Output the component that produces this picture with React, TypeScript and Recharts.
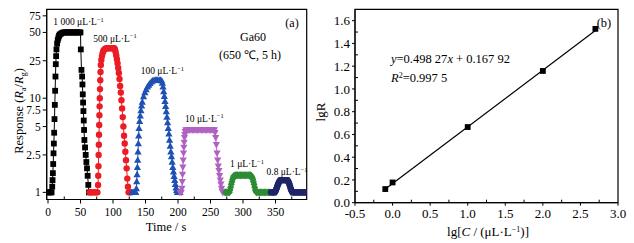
import { ScatterChart, Scatter, XAxis, YAxis, ReferenceArea } from "recharts";

const FONT = '"Liberation Serif", "Times New Roman", serif';

// [time / s, response Ra/Rg]
const resp1000: [number, number][] = [
  [0, 1], [2, 1], [4, 1], [5.5, 1], [6.5, 1.15], [7, 1.35], [7.5, 1.6], [8, 2], [8.5, 2.6],
  [9, 3.3], [9.5, 4.3], [10, 6], [10.5, 8.5], [11, 12], [11.5, 17], [12, 23], [12.5, 28],
  [13, 33], [14, 38], [15, 41.5], [16, 44], [17, 46], [18, 47.5], [20, 48.5], [22, 49.5],
  [24, 50], [26, 50], [28, 50], [30, 50], [32, 50], [34, 50], [36, 50], [38, 50], [40, 50],
  [42, 50], [44, 50], [46, 50], [48, 50], [50, 50], [50.5, 33], [51.5, 20], [52.5, 17],
  [53, 14], [53.5, 11], [54, 9], [54.5, 7.3], [55, 5.8], [55.5, 4.6], [56, 3.6], [57, 3],
  [58, 2.5], [59, 2.1], [60, 1.8], [61, 1.5], [62, 1.2], [63, 1],
];
const resp500: [number, number][] = [
  [64, 1], [66, 1], [68, 1], [70, 1], [72, 1], [74, 1], [76, 1], [77, 1.2], [77.3, 1.5],
  [77.6, 1.9], [77.9, 2.5], [78.2, 3.2], [78.5, 4.1], [78.8, 5.2], [79.1, 6.6], [79.4, 8.2],
  [79.7, 10], [80, 12.5], [80.4, 15.5], [80.8, 19], [81.3, 22.5], [82, 25.5], [83, 28],
  [84, 30], [85, 31.5], [86, 32.5], [88, 33.5], [90, 34], [92, 34], [94, 34], [96, 34],
  [98, 34], [100, 34], [102, 34], [103, 33], [104, 31], [105, 28.5], [106, 26], [107, 23.5],
  [108, 21], [109, 18.5], [110, 16], [111, 13.5], [112, 11.5], [113, 9.5], [114, 7.8],
  [115, 6.3], [116, 5], [117, 4], [118, 3.3], [119, 2.7], [120, 2.2], [121, 1.8], [122, 1.4],
  [123, 1.15], [124, 1], [126, 1], [128, 1],
];
const resp100: [number, number][] = [
  [129, 1], [131, 1], [133, 1], [135, 1], [136, 1.1], [136.5, 1.3], [137, 1.55], [137.5, 1.85],
  [138, 2.2], [138.5, 2.7], [139, 3.3], [139.5, 4], [140, 4.8], [141, 5.7], [142, 6.5],
  [143, 7.4], [144, 8.3], [145, 9.1], [147, 10.4], [149, 11.5], [151, 12.4], [153, 13.2],
  [155, 13.8], [157, 14.4], [159, 14.9], [161, 15.3], [163, 15.5], [165, 15.6], [167, 15.6],
  [169, 15.6], [171, 15.6], [173, 15.6], [175, 15.3], [176, 14.5], [177, 13.2], [178, 11.8],
  [179, 10.5], [180, 9.3], [181, 8.2], [182, 7.2], [183, 6.3], [184, 5.5], [185, 4.8],
  [186, 4.2], [187, 3.6], [188, 3.1], [189, 2.7], [190, 2.4], [191, 2.1], [192, 1.85],
  [193, 1.65], [194, 1.48], [195, 1.34], [196, 1.22], [197, 1.12], [198, 1.05], [199, 1],
  [201, 1], [203, 1],
];
const resp10: [number, number][] = [
  [203, 1], [205, 1], [206, 1.1], [206.5, 1.3], [207, 1.55], [207.5, 1.85], [208, 2.2],
  [208.5, 2.6], [209, 3], [209.5, 3.4], [210, 3.8], [210.5, 4.1], [211, 4.4], [212, 4.6],
  [214, 4.6], [216, 4.6], [218, 4.6], [220, 4.6], [222, 4.6], [224, 4.6], [226, 4.6],
  [228, 4.6], [230, 4.6], [232, 4.6], [234, 4.6], [236, 4.6], [238, 4.6], [240, 4.6],
  [242, 4.6], [244, 4.6], [246, 4.6], [248, 4.6], [250, 4.6], [252, 4.6], [254, 4.6],
  [256, 4.6], [257, 4.3], [258, 3.8], [259, 3.2], [260, 2.6], [261, 2.2], [262, 1.9],
  [263, 1.7], [264, 1.5], [265, 1.35], [266, 1.22], [267, 1.1], [268, 1.02], [269, 1],
  [271, 1], [273, 1],
];
const resp1: [number, number][] = [
  [273, 1], [275, 1], [277, 1], [279, 1], [280, 1.06], [281, 1.13], [282, 1.22], [283, 1.3],
  [284, 1.38], [285, 1.45], [286, 1.5], [288, 1.52], [290, 1.52], [292, 1.52], [294, 1.52],
  [296, 1.52], [298, 1.52], [300, 1.52], [302, 1.52], [304, 1.52], [306, 1.52], [308, 1.52],
  [310, 1.52], [312, 1.52], [313, 1.48], [314, 1.44], [315, 1.38], [316, 1.3], [317, 1.22],
  [318, 1.13], [319, 1.06], [320, 1.02], [321, 1], [323, 1], [325, 1], [327, 1], [329, 1],
  [331, 1], [333, 1], [335, 1], [337, 1], [339, 1], [341, 1],
];
const resp08: [number, number][] = [
  [343, 1], [345, 1], [347, 1], [349, 1], [350, 1.03], [351, 1.07], [352, 1.12], [353, 1.17],
  [354, 1.22], [355, 1.27], [356, 1.31], [357, 1.34], [358, 1.35], [360, 1.35], [362, 1.35],
  [364, 1.35], [366, 1.35], [368, 1.35], [369, 1.33], [370, 1.29], [371, 1.24], [372, 1.18],
  [373, 1.12], [374, 1.07], [375, 1.03], [376, 1], [378, 1], [380, 1], [382, 1], [384, 1],
  [386, 1], [388, 1], [390, 1], [392, 1], [394, 1], [396, 1], [398, 1],
];

const timeTicks = [0, 50, 100, 150, 200, 250, 300, 350];
const timeMinor = [25, 75, 125, 175, 225, 275, 325, 375];
const respTicks = [1, 2.5, 5, 7.5, 10, 25, 50, 75];

// panel (b): lg C vs lg R
const lgC = [-0.097, 0, 1, 2, 2.699];
const lgR = [0.12, 0.178, 0.665, 1.158, 1.528];
const fitC = [-0.097, 2.699];
const fitR = [0.12, 1.513];
const lgCTicks = [-0.5, 0, 0.5, 1, 1.5, 2, 2.5, 3];
const lgCMinor = [-0.25, 0.25, 0.75, 1.25, 1.75, 2.25, 2.75];
const lgRTicks = [0, 0.2, 0.4, 0.6, 0.8, 1.0, 1.2, 1.4, 1.6];
const lgRMinor = [0.1, 0.3, 0.5, 0.7, 0.9, 1.1, 1.3, 1.5];

type Kind = "square" | "circle" | "up" | "down" | "diamond" | "hex";

function drawMarker(kind: Kind, cx: number, cy: number, c: string) {
  if (cx == null || cy == null) return <g />;
  switch (kind) {
    case "square":
      return <rect x={cx - 2.9} y={cy - 2.9} width={5.8} height={5.8} fill={c} />;
    case "circle":
      return <circle cx={cx} cy={cy} r={3.2} fill={c} />;
    case "up":
      return <polygon points={`${cx},${cy - 3.8} ${cx - 3.6},${cy + 2.7} ${cx + 3.6},${cy + 2.7}`} fill={c} />;
    case "down":
      return <polygon points={`${cx},${cy + 3.8} ${cx - 3.6},${cy - 2.7} ${cx + 3.6},${cy - 2.7}`} fill={c} />;
    case "diamond":
      return <polygon points={`${cx},${cy - 3.9} ${cx + 3.5},${cy} ${cx},${cy + 3.9} ${cx - 3.5},${cy}`} fill={c} />;
    case "hex": {
      const pts = [0, 60, 120, 180, 240, 300]
        .map((a) => {
          const r = (a * Math.PI) / 180;
          return `${cx + 3.6 * Math.cos(r)},${cy + 3.6 * Math.sin(r)}`;
        })
        .join(" ");
      return <polygon points={pts} fill={c} />;
    }
  }
}

const seriesA = [
  { name: "1000", data: resp1000, color: "#000000", kind: "square" as Kind },
  { name: "500", data: resp500, color: "#ec1c24", kind: "circle" as Kind },
  { name: "100", data: resp100, color: "#1f51b3", kind: "up" as Kind },
  { name: "10", data: resp10, color: "#b062c2", kind: "down" as Kind },
  { name: "1", data: resp1, color: "#2e8b35", kind: "diamond" as Kind },
  { name: "0.8", data: resp08, color: "#1f2566", kind: "hex" as Kind },
];

const isIn = (arr: number[], v: number) => arr.some((m) => Math.abs(m - v) < 1e-9);

// bottom axis tick: majors point out with a label, minors point in
function bottomTick(majors: number[], fmt: (v: number) => string, fs: number, size: number, margin: number) {
  return (props: any) => {
    const { x, y, payload } = props;
    const axisY = y - size - margin;
    const major = isIn(majors, payload.value);
    return (
      <g>
        <line x1={x} x2={x} y1={axisY} y2={major ? axisY + size : axisY - 3} stroke="#000" />
        {major && (
          <text x={x} y={y} dy="0.71em" textAnchor="middle" fontSize={fs} fontFamily={FONT} fill="#000">
            {fmt(payload.value)}
          </text>
        )}
      </g>
    );
  };
}

function leftTick(majors: number[], fmt: (v: number) => string, fs: number, size: number, margin: number) {
  return (props: any) => {
    const { x, y, payload } = props;
    const axisX = x + size + margin;
    const major = isIn(majors, payload.value);
    return (
      <g>
        <line x1={axisX} x2={major ? axisX - size : axisX + 3} y1={y} y2={y} stroke="#000" />
        {major && (
          <text x={x} y={y} dy="0.355em" textAnchor="end" fontSize={fs} fontFamily={FONT} fill="#000">
            {fmt(payload.value)}
          </text>
        )}
      </g>
    );
  };
}

function Unit({ x, y, pre }: { x: number; y: number; pre: string }) {
  return (
    <text x={x} y={y} fontSize={9.5} fill="#000">
      {pre} μL·L
      <tspan dy={-3.5} fontSize={6.5}>−1</tspan>
    </text>
  );
}

const num = (v: number) => String(v);
const fix1 = (v: number) => v.toFixed(1);

export default function App() {
  const pointsB = lgC.map((c, i) => ({ c, r: lgR[i] }));
  const fitB = fitC.map((c, i) => ({ c, r: fitR[i] }));
  const timeAll = [...timeTicks, ...timeMinor].sort((a, b) => a - b);
  const lgCAll = [...lgCTicks, ...lgCMinor].sort((a, b) => a - b);
  const lgRAll = [...lgRTicks, ...lgRMinor].sort((a, b) => a - b);

  return (
    <div
      style={{
        position: "absolute",
        left: 0,
        top: 0,
        width: 634,
        height: 243,
        background: "#fff",
        fontFamily: FONT,
      }}
    >
      <div style={{ position: "absolute", left: 0, top: 0 }}>
        <ScatterChart width={320} height={243} margin={{ top: 9.3, right: 13.3, bottom: 42.5, left: 45.7 }}>
          <XAxis
            type="number"
            dataKey="t"
            domain={[-2, 398]}
            allowDataOverflow
            ticks={timeAll}
            interval={0}
            height={1}
            tickSize={4}
            tickMargin={4}
            tickLine={false}
            stroke="#000"
            tick={bottomTick(timeTicks, num, 11.5, 4, 4)}
          />
          <YAxis
            type="number"
            dataKey="v"
            scale="log"
            domain={[0.84, 88]}
            allowDataOverflow
            ticks={respTicks}
            interval={0}
            width={1}
            tickSize={4}
            tickMargin={2}
            tickLine={false}
            stroke="#000"
            tick={leftTick(respTicks, num, 11.5, 4, 2)}
          />
          <ReferenceArea x1={-2} x2={398} y1={0.84} y2={88} fill="none" stroke="#000" strokeWidth={1.2} ifOverflow="visible" />
          {seriesA.map((s) => (
            <Scatter
              key={s.name}
              name={s.name}
              data={s.data.map(([t, v]) => ({ t, v }))}
              fill={s.color}
              line={{ stroke: s.color, strokeWidth: 1 }}
              shape={(p: any) => drawMarker(s.kind, p.cx, p.cy, s.color)}
              isAnimationActive={false}
            />
          ))}
        </ScatterChart>
      </div>

      <div style={{ position: "absolute", left: 320, top: 0 }}>
        <ScatterChart width={314} height={243} margin={{ top: 9.3, right: 16, bottom: 39.3, left: 34 }}>
          <XAxis
            type="number"
            dataKey="c"
            domain={[-0.5, 3]}
            allowDataOverflow
            ticks={lgCAll}
            interval={0}
            height={1}
            tickSize={3}
            tickMargin={3.5}
            tickLine={false}
            stroke="#000"
            tick={bottomTick(lgCTicks, fix1, 13, 3, 3.5)}
          />
          <YAxis
            type="number"
            dataKey="r"
            domain={[0, 1.7]}
            allowDataOverflow
            ticks={lgRAll}
            interval={0}
            width={1}
            tickSize={3}
            tickMargin={2}
            tickLine={false}
            stroke="#000"
            tick={leftTick(lgRTicks, fix1, 13, 3, 2)}
          />
          <ReferenceArea x1={-0.5} x2={3} y1={0} y2={1.7} fill="none" stroke="#000" strokeWidth={1.2} ifOverflow="visible" />
          <Scatter
            name="fit"
            data={fitB}
            line={{ stroke: "#000", strokeWidth: 1.2 }}
            shape={() => <g />}
            isAnimationActive={false}
          />
          <Scatter
            name="lgR"
            data={pointsB}
            fill="#000"
            shape={(p: any) => drawMarker("square", p.cx, p.cy, "#000")}
            isAnimationActive={false}
          />
        </ScatterChart>
      </div>

      <svg
        width={634}
        height={243}
        style={{ position: "absolute", left: 0, top: 0, pointerEvents: "none", fontFamily: FONT }}
      >
        {/* panel (a) */}
        <text x={23} y={111} fontSize={12.5} textAnchor="middle" transform="rotate(-90 23 111)">
          Response (<tspan fontStyle="italic">R</tspan>
          <tspan fontSize={8} dy={3}>a</tspan>
          <tspan dy={-3}>/</tspan>
          <tspan fontStyle="italic">R</tspan>
          <tspan fontSize={8} dy={3}>g</tspan>
          <tspan dy={-3}>)</tspan>
        </text>
        <text x={166} y={231} fontSize={12.5} textAnchor="middle">Time / s</text>
        <Unit x={53.3} y={25} pre="1 000" />
        <Unit x={93.3} y={41.5} pre="500" />
        <Unit x={140.7} y={74} pre="100" />
        <Unit x={185} y={121.5} pre="10" />
        <Unit x={230} y={167} pre="1" />
        <Unit x={266.5} y={175} pre="0.8" />
        <text x={292} y={26.5} fontSize={12} textAnchor="middle">(a)</text>
        <text x={253} y={40.5} fontSize={12} textAnchor="middle">Ga60</text>
        <text x={250} y={59} fontSize={12} textAnchor="middle">(650 ℃, 5 h)</text>

        {/* panel (b) */}
        <text x={325} y={112} fontSize={13} textAnchor="middle" transform="rotate(-90 325 112)">lgR</text>
        <text x={488} y={235.5} fontSize={13} textAnchor="middle">
          lg[<tspan fontStyle="italic">C</tspan> / (μL·L
          <tspan fontSize={8} dy={-4}>−1</tspan>
          <tspan dy={4}>)]</tspan>
        </text>
        <text x={391} y={62.5} fontSize={12.5}>
          <tspan fontStyle="italic">y</tspan>=0.498 27<tspan fontStyle="italic">x</tspan> + 0.167 92
        </text>
        <text x={391} y={81.5} fontSize={12.5}>
          <tspan fontStyle="italic">R</tspan>
          <tspan fontSize={8} dy={-4}>2</tspan>
          <tspan dy={4}>=0.997 5</tspan>
        </text>
        <text x={604} y={26.5} fontSize={12.5} textAnchor="middle">(b)</text>
      </svg>
    </div>
  );
}
